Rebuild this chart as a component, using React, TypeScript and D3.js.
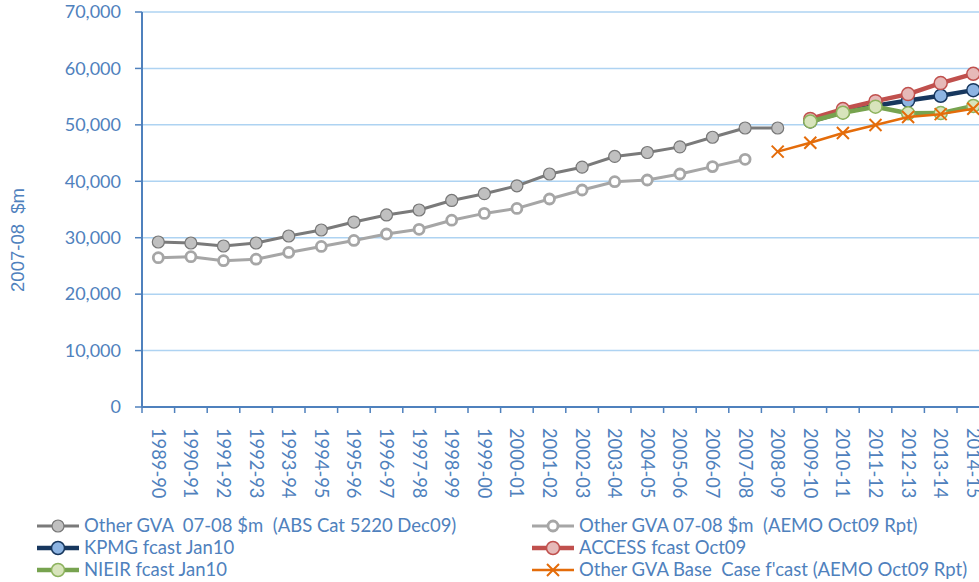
import React from "react";
import * as d3 from "d3";

const categories = [
  "1989-90","1990-91","1991-92","1992-93","1993-94","1994-95","1995-96","1996-97",
  "1997-98","1998-99","1999-00","2000-01","2001-02","2002-03","2003-04","2004-05",
  "2005-06","2006-07","2007-08","2008-09","2009-10","2010-11","2011-12","2012-13",
  "2013-14","2014-15",
];

const absValues = [29240, 29060, 28530, 29060, 30300, 31370, 32780, 34030, 34910, 36600,
  37800, 39200, 41290, 42500, 44400, 45100, 46100, 47800, 49440, 49440];
const aemoValues = [26460, 26640, 25930, 26200, 27390, 28460, 29520, 30660, 31490, 33100,
  34310, 35190, 36860, 38460, 39930, 40230, 41290, 42600, 43890];
const kpmgValues = [50600, 52250, 53400, 54300, 55150, 56150];
const accessValues = [51050, 52800, 54200, 55450, 57400, 59050];
const nieirValues = [50600, 52150, 53220, 52050, 52080, 53350];
const baseCaseValues = [45250, 46840, 48560, 49970, 51400, 51900, 52850];

const yTicks = [0, 10000, 20000, 30000, 40000, 50000, 60000, 70000];

const FONT = "Lato, 'Open Sans', sans-serif";
const TEXT = "#4f81bd";

type Series = {
  name: string;
  start: number;
  values: number[];
  line: string;
  width: number;
  marker: "circle" | "ring" | "x";
  fill: string;
  mstroke: string;
  r: number;
  mw: number;
};

const series: Series[] = [
  { name: "Other GVA  07-08 $m  (ABS Cat 5220 Dec09)", start: 0, values: absValues, line: "#7a7a7a", width: 3, marker: "circle", fill: "#c0c0c0", mstroke: "#777777", r: 6, mw: 1.2 },
  { name: "Other GVA 07-08 $m  (AEMO Oct09 Rpt)", start: 0, values: aemoValues, line: "#a6a6a6", width: 3, marker: "ring", fill: "#ffffff", mstroke: "#a6a6a6", r: 5, mw: 2.8 },
  { name: "KPMG fcast Jan10", start: 20, values: kpmgValues, line: "#17375e", width: 4.5, marker: "circle", fill: "#8db4e2", mstroke: "#17375e", r: 6.5, mw: 1.5 },
  { name: "ACCESS fcast Oct09", start: 20, values: accessValues, line: "#c0504d", width: 4.5, marker: "circle", fill: "#e6b9b8", mstroke: "#c0504d", r: 6.5, mw: 1.5 },
  { name: "NIEIR fcast Jan10", start: 20, values: nieirValues, line: "#77a34f", width: 4.5, marker: "circle", fill: "#d8e4bc", mstroke: "#8db35e", r: 6.5, mw: 1.5 },
  { name: "Other GVA Base  Case f'cast (AEMO Oct09 Rpt)", start: 19, values: baseCaseValues, line: "#e46c0a", width: 2.5, marker: "x", fill: "none", mstroke: "#e46c0a", r: 6, mw: 2 },
];

function Marker({ s, x, y }: { s: Series; x: number; y: number }) {
  if (s.marker === "x") {
    const r = s.r;
    return (
      <path
        d={`M${x - r},${y - r}L${x + r},${y + r}M${x - r},${y + r}L${x + r},${y - r}`}
        stroke={s.mstroke}
        strokeWidth={s.mw}
        fill="none"
      />
    );
  }
  return <circle cx={x} cy={y} r={s.r} fill={s.fill} stroke={s.mstroke} strokeWidth={s.mw} />;
}

export default function App() {
  const W = 979;
  const H = 582;
  const left = 142;
  const top = 12;
  const bottom = 407;
  const bandW = 32.6;

  const x = d3.scaleBand<string>().domain(categories).range([left, left + bandW * categories.length]).paddingInner(0).paddingOuter(0);
  const y = d3.scaleLinear().domain([0, 70000]).range([bottom, top]);
  const cx = (i: number) => (x(categories[i]) as number) + x.bandwidth() / 2;
  const fmt = d3.format(",");

  const lineGen = d3
    .line<[number, number]>()
    .x((d) => d[0])
    .y((d) => d[1]);

  const legendRows = [
    { s: series[0], lx: 37, ly: 526 },
    { s: series[1], lx: 532, ly: 526 },
    { s: series[2], lx: 37, ly: 548 },
    { s: series[3], lx: 532, ly: 548 },
    { s: series[4], lx: 37, ly: 570 },
    { s: series[5], lx: 532, ly: 570 },
  ];

  return (
    <svg
      width={W}
      height={H}
      style={{ position: "absolute", left: 0, top: 0, background: "#fff" }}
      fontFamily={FONT}
    >
      {/* gridlines */}
      {yTicks.filter((t) => t > 0).map((t) => (
        <line key={t} x1={left} x2={W} y1={y(t)} y2={y(t)} stroke="#aed3f2" strokeWidth={1.5} />
      ))}
      {/* y axis */}
      <line x1={left} x2={left} y1={top} y2={bottom} stroke="#4f81bd" strokeWidth={2} />
      {yTicks.map((t) => (
        <g key={t}>
          <line x1={left - 7} x2={left} y1={y(t)} y2={y(t)} stroke="#4f81bd" strokeWidth={1.5} />
          <text x={121} y={y(t)} dy="0.35em" textAnchor="end" fontSize={18} fill={TEXT}>
            {fmt(t)}
          </text>
        </g>
      ))}
      <text
        transform={`translate(18,240) rotate(-90)`}
        textAnchor="middle"
        dy="0.35em"
        fontSize={18.5}
        fontFamily="'Liberation Sans', Arial, sans-serif"
        fill={TEXT}
        style={{ whiteSpace: "pre" }}
      >
        {"2007-08  $m"}
      </text>
      {/* x axis */}
      <line x1={left} x2={W} y1={bottom} y2={bottom} stroke="#4f81bd" strokeWidth={2} />
      {categories.map((c, i) => (
        <g key={c}>
          <line x1={(x(c) as number) + bandW} x2={(x(c) as number) + bandW} y1={bottom} y2={bottom + 6} stroke="#4f81bd" strokeWidth={1.5} />
          <text
            transform={`translate(${cx(i)},428) rotate(90)`}
            dy="0.35em"
            fontSize={18.3}
            fill={TEXT}
          >
            {c}
          </text>
        </g>
      ))}
      <line x1={left} x2={left} y1={bottom} y2={bottom + 6} stroke="#4f81bd" strokeWidth={1.5} />
      {/* series */}
      {series.map((s) => {
        const pts: [number, number][] = s.values.map((v, k) => [cx(s.start + k), y(v)]);
        return (
          <g key={s.name}>
            <path d={lineGen(pts) || ""} fill="none" stroke={s.line} strokeWidth={s.width} strokeLinejoin="round" />
            {pts.map((p, k) => (
              <Marker key={k} s={s} x={p[0]} y={p[1]} />
            ))}
          </g>
        );
      })}
      {/* legend */}
      {legendRows.map(({ s, lx, ly }) => (
        <g key={s.name}>
          <line x1={lx} x2={lx + 42} y1={ly} y2={ly} stroke={s.line} strokeWidth={s.width} />
          <Marker s={s} x={lx + 21} y={ly} />
          <text x={lx + 47} y={ly} dy="0.35em" fontSize={18.5} fill={TEXT} style={{ whiteSpace: "pre" }}>
            {s.name}
          </text>
        </g>
      ))}
    </svg>
  );
}
